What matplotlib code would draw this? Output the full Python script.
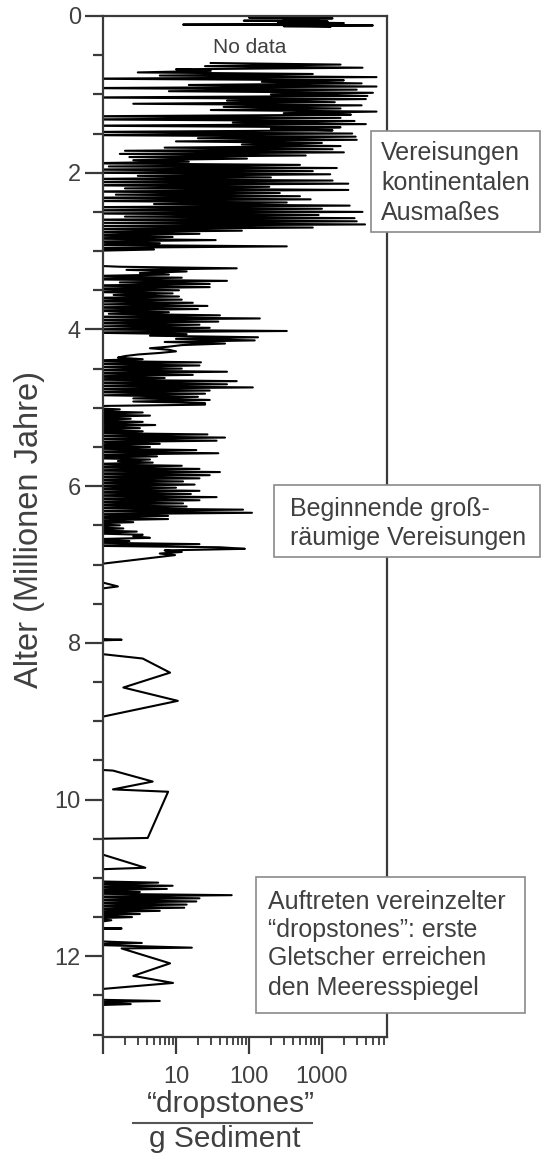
import numpy as np
import matplotlib
matplotlib.use("Agg")
import matplotlib.pyplot as plt
from matplotlib.patches import Rectangle
from matplotlib.lines import Line2D
from matplotlib.ticker import FixedLocator, FixedFormatter, LogLocator, NullFormatter, MultipleLocator

plt.rcParams['font.family'] = ['Liberation Sans', 'DejaVu Sans']

# Alter (Mio. Jahre) und dropstones pro g Sediment
# Werte < 1 liegen links ausserhalb der Achse
top_age = [0.00, 0.01, 0.02, 0.03, 0.04, 0.05, 0.06, 0.07, 0.08, 0.09, 0.10, 0.11, 0.12, 0.13, 0.14]
top_val = [150, 500, 100, 1400, 300, 900, 85, 1200, 250, 2000, 500, 12.5, 5000, 300, 1300]

b1_age = [0.60, 0.62, 0.64, 0.66, 0.68, 0.70, 0.72, 0.74, 0.76, 0.78,
          0.80, 0.82, 0.84, 0.86, 0.88, 0.90, 0.92, 0.94, 0.96, 0.98,
          1.00, 1.02, 1.04, 1.06, 1.08, 1.10, 1.12, 1.14, 1.16, 1.18,
          1.20, 1.22, 1.24, 1.26, 1.28, 1.30, 1.32, 1.34, 1.36, 1.38,
          1.40, 1.42, 1.44, 1.46, 1.48, 1.50, 1.52, 1.54, 1.56, 1.58,
          1.60, 1.62, 1.64, 1.66, 1.68, 1.70, 1.72, 1.74, 1.76, 1.78,
          1.80, 1.82, 1.84, 1.86, 1.88, 1.90, 1.92, 1.94, 1.96, 1.98,
          2.00, 2.02, 2.04, 2.06, 2.08, 2.10, 2.12, 2.14, 2.16, 2.18,
          2.20, 2.22, 2.24, 2.26, 2.28, 2.30, 2.32, 2.34, 2.36, 2.38,
          2.40, 2.42, 2.44, 2.46, 2.48, 2.50, 2.52, 2.54, 2.56, 2.58,
          2.60, 2.62, 2.64, 2.66, 2.68, 2.70, 2.72, 2.74, 2.76, 2.78,
          2.80, 2.82, 2.84, 2.86, 2.88, 2.90, 2.92, 2.94, 2.96, 2.98]
b1_val = [30, 1800, 25, 3600, 10, 30, 3, 750, 6, 5600,
          0.5, 2000, 150, 3500, 15, 5600, 0.5, 3000, 8, 5000,
          200, 4200, 0.5, 4000, 50, 1500, 2.6, 3500, 45, 1800,
          30, 5600, 300, 2500, 0.5, 1800, 0.5, 2800, 60, 4000,
          0.5, 1800, 200, 1400, 0.5, 2600, 0.5, 2900, 20, 3000,
          10, 1000, 80, 1800, 7, 1400, 2, 2000, 1.7, 600,
          2.3, 94, 2.6, 15, 0.5, 500, 1.2, 1600, 0.5, 750,
          0.5, 1300, 3, 200, 0.5, 1400, 0.5, 2300, 0.5, 190,
          2, 2300, 0.5, 265, 1.5, 500, 0.5, 700, 0.5, 330,
          5, 2400, 0.5, 1000, 0.5, 3600, 0.5, 900, 2, 2800,
          0.5, 3000, 1, 3900, 0.5, 750, 0.5, 80, 0.5, 21,
          0.5, 9, 0.5, 35, 0.5, 6, 0.5, 330, 0.5, 5]

b2_age = [3.00, 3.18,
          3.20, 3.22, 3.24, 3.26, 3.28, 3.30, 3.32, 3.34, 3.36, 3.38,
          3.40, 3.42, 3.44, 3.46, 3.48, 3.50, 3.52, 3.54, 3.56, 3.58,
          3.60, 3.62, 3.64, 3.66, 3.68, 3.70, 3.72, 3.74, 3.76, 3.78,
          3.80, 3.82, 3.84, 3.86, 3.88, 3.90, 3.92, 3.94, 3.96, 3.98,
          4.00, 4.02, 4.04, 4.06, 4.08, 4.10, 4.12, 4.14, 4.16, 4.18,
          4.20, 4.22, 4.24, 4.26, 4.28, 4.30, 4.32, 4.34, 4.36, 4.38,
          4.40, 4.42, 4.44, 4.46, 4.48, 4.50, 4.52, 4.54, 4.56, 4.58,
          4.60, 4.62, 4.64, 4.66, 4.68, 4.70, 4.72, 4.74, 4.76, 4.78,
          4.80, 4.82, 4.84, 4.86, 4.88, 4.90, 4.92, 4.94, 4.96, 4.98]
b2_val = [0.5, 0.5,
          1.7, 68, 2.1, 14, 3.2, 8, 0.5, 12, 0.5, 50,
          1.7, 29, 0.5, 29, 0.5, 11, 0.5, 9, 1.4, 11,
          0.5, 12, 0.5, 17, 1, 27, 0.5, 20, 0.5, 8,
          1.2, 40, 0.5, 141, 0.5, 38, 0.5, 21, 1, 29,
          0.5, 330, 0.5, 14, 4.4, 133, 10, 120, 7, 47,
          12, 8, 4.4, 8, 10, 6, 3, 2, 1.6, 3.5,
          0.5, 22, 0.5, 21, 1, 12, 0.5, 50, 0.5, 17,
          0.5, 7, 0.5, 68, 0.5, 50, 0.5, 113, 0.5, 29,
          0.5, 25, 1, 20, 2.6, 29, 2.6, 25, 25, 0.5]

b3_age = [5.00, 5.02, 5.04, 5.06, 5.08, 5.10, 5.12, 5.14, 5.16, 5.18,
          5.20, 5.22, 5.24, 5.26, 5.28, 5.30, 5.32, 5.34, 5.36, 5.38,
          5.40, 5.42, 5.44, 5.46, 5.48, 5.50, 5.52, 5.54, 5.56, 5.58,
          5.60, 5.62, 5.64, 5.66, 5.68, 5.70, 5.72, 5.74, 5.76, 5.78,
          5.80, 5.82, 5.84, 5.86, 5.88, 5.90, 5.92, 5.94, 5.96, 5.98,
          6.00, 6.02, 6.04, 6.06, 6.08, 6.10, 6.12, 6.14, 6.16, 6.18,
          6.20, 6.22, 6.24, 6.26, 6.28, 6.30, 6.32, 6.34, 6.36, 6.38,
          6.40, 6.42, 6.44, 6.46, 6.48, 6.50, 6.52, 6.54, 6.56, 6.58,
          6.60, 6.62, 6.64, 6.66, 6.68, 6.70, 6.72, 6.74, 6.76, 6.78,
          6.80, 6.82, 6.84, 6.86, 6.88]
b3_val = [0.5, 1.7, 0.5, 3.5, 0.5, 4.4, 0.5, 2.4, 0.5, 3.5,
          0.5, 5.2, 0.5, 3.2, 0.5, 3.5, 0.5, 27, 0.5, 47,
          0.5, 36, 0.5, 6, 0.5, 4.4, 0.5, 19, 0.5, 38,
          0.5, 5.5, 0.5, 4.4, 1.6, 4.8, 0.5, 12, 0.5, 21,
          0.5, 40, 0.5, 29, 0.5, 21, 0.5, 12.5, 0.5, 18,
          0.5, 10, 0.5, 21, 0.5, 16, 0.5, 36, 0.5, 21,
          0.5, 12.5, 0.5, 14, 0.5, 83, 0.5, 110, 0.5, 7.8,
          0.5, 7.8, 0.5, 2.6, 0.5, 1.7, 0.5, 1.9, 0.5, 2.9,
          0.5, 3.5, 2.6, 4.4, 0.5, 2.3, 0.5, 21, 0.5, 40,
          88, 7, 12, 6, 9.7]

b4_age = [7.00, 7.22, 7.28, 7.31, 7.95, 7.96, 7.97, 8.14, 8.20, 8.38, 8.57, 8.74, 8.95,
          9.62, 9.63, 9.77, 9.87, 9.90, 10.49, 10.50, 10.69, 10.87, 10.89]
b4_val = [0.8, 0.9, 1.6, 0.9, 0.9, 1.8, 0.9, 0.9, 3.5, 8.3, 1.9, 10.6, 0.9,
          0.9, 1.37, 4.8, 1.37, 7.8, 4.1, 0.9, 0.9, 3.8, 0.9]

b5_age = [11.04, 11.06, 11.08, 11.10, 11.12, 11.14, 11.16, 11.18, 11.20, 11.22,
          11.24, 11.26, 11.28, 11.30, 11.32, 11.34, 11.36, 11.38, 11.40, 11.42,
          11.44, 11.46, 11.48, 11.50, 11.52, 11.54, 11.56, 11.64, 11.645, 11.65,
          11.80, 11.83, 11.85, 11.89, 11.90, 12.09, 12.25, 12.34, 12.42,
          12.55, 12.57, 12.59, 12.61, 12.63]
b5_val = [0.5, 5.7, 0.5, 9, 0.5, 7.5, 0.5, 3.2, 0.5, 58,
          0.5, 21, 0.5, 19, 0.5, 14, 0.5, 13, 0.5, 6,
          0.5, 3.2, 0.5, 2.5, 0.5, 1.3, 0.9, 0.9, 1.8, 0.9,
          0.5, 3.4, 0.5, 16.5, 1.8, 8.3, 2.6, 9.1, 0.9,
          0.5, 6, 0.5, 2.4, 0.5]

ages = top_age + [np.nan] + b1_age + b2_age + b3_age + b4_age + b5_age
vals = top_val + [np.nan] + b1_val + b2_val + b3_val + b4_val + b5_val

grey = '#3a3a3a'
txt = '#404040'

fig = plt.figure(figsize=(5.5, 11.55), dpi=100)
W, H = 550.0, 1155.0


def fx(x):
    return x / W


def fy(y):
    return 1 - y / H


ax = fig.add_axes([fx(103), fy(1037), (387 - 103) / W, (1037 - 16) / H])
ax.plot(vals, ages, color='black', lw=1.5)

ax.set_xscale('log')
ax.set_xlim(1, 7800)
ax.set_ylim(13.03, 0)

for s in ax.spines.values():
    s.set_color(grey)
    s.set_linewidth(1.6)

ax.yaxis.set_major_locator(FixedLocator([0, 2, 4, 6, 8, 10, 12]))
ax.yaxis.set_minor_locator(MultipleLocator(0.5))
ax.xaxis.set_major_locator(FixedLocator([1, 10, 100, 1000]))
ax.xaxis.set_major_formatter(FixedFormatter(['', '10', '100', '1000']))
ax.xaxis.set_minor_locator(LogLocator(base=10, subs=range(2, 10), numticks=20))
ax.xaxis.set_minor_formatter(NullFormatter())

ax.tick_params(axis='y', which='major', direction='out', length=13, width=1.6,
               color=grey, labelsize=17, labelcolor=txt, pad=3)
ax.tick_params(axis='y', which='minor', direction='out', length=7.5, width=1.6, color=grey)
ax.tick_params(axis='x', which='major', direction='out', length=12, width=1.6,
               color=grey, labelsize=17, labelcolor=txt, pad=9)
ax.tick_params(axis='x', which='minor', direction='out', length=6, width=1.3, color=grey)

ax.text(0.518, 0.9687, 'No data', transform=ax.transAxes, ha='center', va='center',
        fontsize=15, color=txt)

fig.text(fx(30), fy(530), 'Alter (Millionen Jahre)', rotation=90, ha='center', va='center',
         fontsize=23.5, color=txt)

fig.text(fx(231), fy(1112), '\u201cdropstones\u201d', ha='center', va='baseline', fontsize=21.5, color=txt)
fig.add_artist(Line2D([fx(133), fx(312)], [fy(1123), fy(1123)], color='#555555', lw=1.5))
fig.text(fx(225), fy(1147), 'g Sediment', ha='center', va='baseline', fontsize=21.5, color=txt)

# Kaesten mit Erlaeuterungen
boxes = [
    (371, 131, 540, 232, 381, [153, 183, 213],
     ['Vereisungen', 'kontinentalen', 'Ausmaßes']),
    (274, 485, 540, 557, 290, [509, 538],
     ['Beginnende groß-', 'räumige Vereisungen']),
    (256, 877, 525, 1013, 268, [902, 930, 958, 988],
     ['Auftreten vereinzelter', '\u201cdropstones\u201d: erste', 'Gletscher erreichen',
      'den Meeresspiegel']),
]
for x0, y0, x1, y1, tx, lys, lines in boxes:
    r = Rectangle((fx(x0), fy(y1)), (x1 - x0) / W, (y1 - y0) / H, transform=fig.transFigure,
                  facecolor='white', edgecolor='#8a8a8a', lw=1.2, zorder=5)
    fig.add_artist(r)
    for ly, line in zip(lys, lines):
        fig.text(fx(tx), fy(ly), line, ha='left', va='center', fontsize=18, color=txt, zorder=6)

fig.savefig('out.png', dpi=100)
